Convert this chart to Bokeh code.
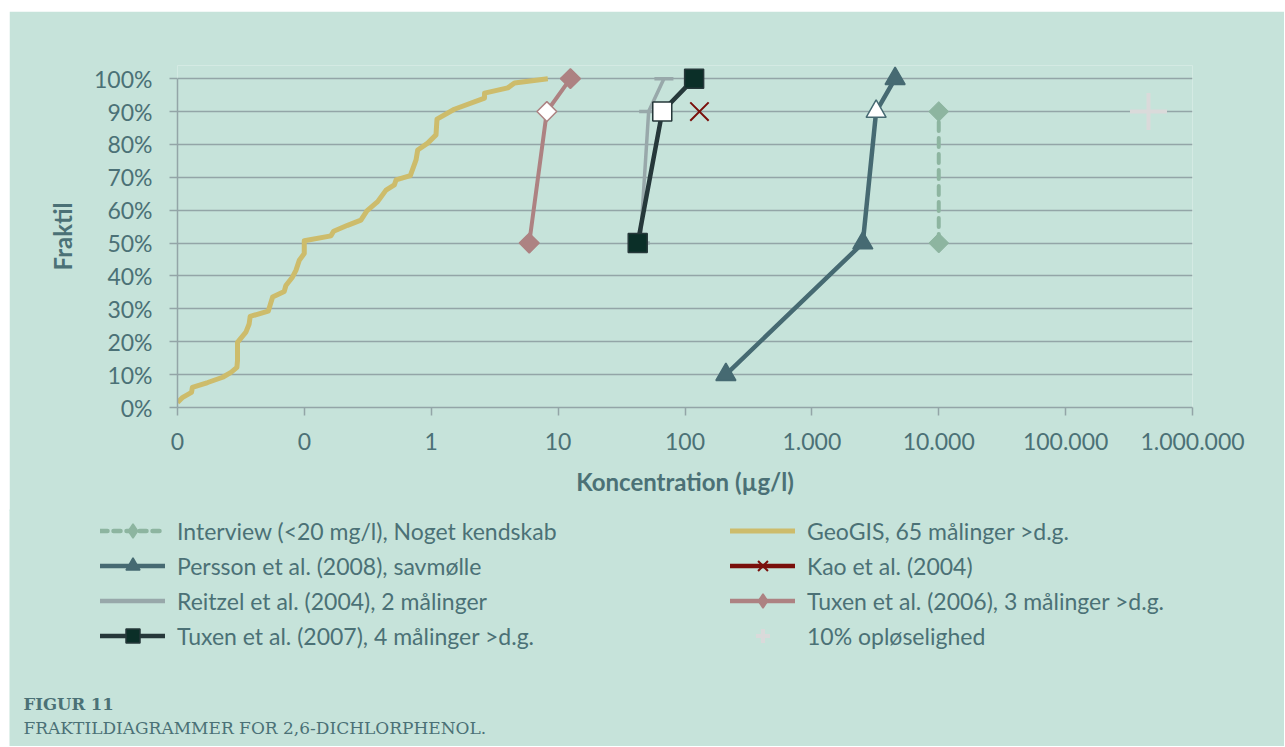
import math
from bokeh.plotting import figure
from bokeh.models import Range1d, FixedTicker, Legend, LegendItem, Label
from bokeh.embed import file_html
from bokeh.resources import INLINE

# ---------------- data ----------------
x_tick_values = [0.01, 0.1, 1, 10, 100, 1000, 10000, 100000, 1000000]
x_tick_labels = ["0", "0", "1", "10", "100", "1.000", "10.000", "100.000", "1.000.000"]
y_tick_values = [0, 10, 20, 30, 40, 50, 60, 70, 80, 90, 100]
y_tick_labels = ["0%", "10%", "20%", "30%", "40%", "50%", "60%", "70%", "80%", "90%", "100%"]

interview_conc = [10000, 10000]
interview_frac = [50, 90]

geogis_conc = [0.0100, 0.0110, 0.0129, 0.0131, 0.0173, 0.0227, 0.0264, 0.0294, 0.0297, 0.0297,
               0.0346, 0.0367, 0.0374, 0.0519, 0.0562, 0.0694, 0.0715, 0.0807, 0.0858, 0.0912,
               0.0998, 0.0998, 0.162, 0.170, 0.219, 0.279, 0.311, 0.378, 0.440, 0.512,
               0.528, 0.684, 0.759, 0.782, 0.938, 1.09, 1.11, 1.52, 2.63, 2.63,
               4.01, 4.53, 8.29]
geogis_frac = [1.5, 3.1, 4.6, 6.1, 7.6, 9.2, 10.7, 12.2, 14.2, 19.8,
               22.9, 25.4, 27.7, 29.3, 33.6, 35.3, 37.1, 39.7, 41.7, 44.8,
               46.8, 50.7, 52.2, 53.6, 55.4, 57.0, 59.8, 62.6, 66.1, 67.7,
               69.2, 70.5, 75.3, 78.3, 80.4, 82.9, 87.7, 90.7, 94.1, 95.6,
               97.2, 98.7, 100]

persson_conc = [210, 2520, 3210, 4530]
persson_frac = [10, 50, 90, 100]

kao_conc = [130]
kao_frac = [90]

reitzel_conc = [44.4, 51.7, 68.2]
reitzel_frac = [50, 90, 100]

tuxen06_conc = [5.92, 8.15, 12.5]
tuxen06_frac = [50, 90, 100]

tuxen07_conc = [42.4, 66.2, 118]
tuxen07_frac = [50, 90, 100]

solubility_conc = [450000]
solubility_frac = [90]

labels = {
    "interview": "Interview (<20 mg/l), Noget kendskab",
    "geogis": "GeoGIS, 65 målinger >d.g.",
    "persson": "Persson et al. (2008), savmølle",
    "kao": "Kao et al. (2004)",
    "reitzel": "Reitzel et al. (2004), 2 målinger",
    "tuxen06": "Tuxen et al. (2006), 3 målinger >d.g.",
    "tuxen07": "Tuxen et al. (2007), 4 målinger >d.g.",
    "sol": "10% opløselighed",
}
caption_title = "FIGUR 11"
caption_text = "FRAKTILDIAGRAMMER FOR 2,6-DICHLORPHENOL."

# ---------------- style ----------------
BG = "#c6e3da"
GRID = "#93a5a7"
TEXT = "#4b7176"
C_INT = "#8db5a0"
C_GEO = "#cdbc6b"
C_PER = "#466a72"
C_KAO = "#7a0f0b"
C_REI = "#98a8aa"
C_T06 = "#ad8282"
C_T07 = "#26383a"
C_T07F = "#0b2f28"
C_SOL = "#dadada"
FONT = "Lato"

W = 1275
H1 = 500
H2 = 237

p = figure(width=W, height=H1, x_axis_type="log",
           x_range=Range1d(0.01, 1000000), y_range=Range1d(0, 104),
           output_backend="svg", toolbar_location=None,
           min_border_left=168, min_border_right=92,
           min_border_top=54, min_border_bottom=104,
           margin=(11, 0, 0, 9))
p.background_fill_color = BG
p.border_fill_color = BG
p.outline_line_color = None

p.xaxis.ticker = FixedTicker(ticks=x_tick_values)
p.xaxis.major_label_overrides = dict(zip(x_tick_values, x_tick_labels))
p.yaxis.ticker = FixedTicker(ticks=y_tick_values)
p.yaxis.major_label_overrides = dict(zip(y_tick_values, y_tick_labels))
p.yaxis.bounds = (0, 100)
p.xaxis.axis_label = "Koncentration (µg/l)"
p.yaxis.axis_label = "Fraktil"

for ax in (p.xaxis[0], p.yaxis[0]):
    ax.axis_line_color = GRID
    ax.axis_line_width = 1.5
    ax.major_tick_line_color = GRID
    ax.major_tick_line_width = 1.5
    ax.major_tick_out = 8
    ax.major_tick_in = 0
    ax.minor_tick_line_color = None
    ax.major_label_text_font = FONT
    ax.major_label_text_font_size = "23px"
    ax.major_label_text_color = TEXT
    ax.axis_label_text_font = FONT
    ax.axis_label_text_font_style = "bold"
    ax.axis_label_text_font_size = "24px"
    ax.axis_label_text_color = TEXT
p.xaxis.major_label_standoff = 17
p.yaxis.major_label_standoff = 17
p.xaxis.axis_label_standoff = 14
p.yaxis.axis_label_standoff = 14

p.xgrid.grid_line_color = None
p.ygrid.grid_line_color = GRID
p.ygrid.grid_line_width = 1.5

def fills(fracs, color):
    return ["white" if f == 90 else color for f in fracs]

# Interview
p.line(interview_conc, interview_frac, line_color=C_INT, line_width=4,
       line_dash="9 7", line_cap="round")
p.scatter(interview_conc, interview_frac, marker="square", angle=math.pi / 4,
          size=14, fill_color=C_INT, line_color=C_INT)
# GeoGIS
p.line(geogis_conc, geogis_frac, line_color=C_GEO, line_width=5, line_join="round")
# Persson
p.line(persson_conc, persson_frac, line_color=C_PER, line_width=4.5)
p.scatter(persson_conc, persson_frac, marker="triangle", size=20,
          fill_color=fills(persson_frac, C_PER), line_color=C_PER, line_width=1.5)
# Kao
p.scatter(kao_conc, kao_frac, marker="x", size=26, line_color=C_KAO, line_width=2)
# Reitzel
p.line(reitzel_conc, reitzel_frac, line_color=C_REI, line_width=3.5)
p.scatter(reitzel_conc, reitzel_frac, marker="dash", size=19, line_color=C_REI, line_width=3.5)
# Tuxen 2006
p.line(tuxen06_conc, tuxen06_frac, line_color=C_T06, line_width=4)
p.scatter(tuxen06_conc, tuxen06_frac, marker="square", angle=math.pi / 4, size=14,
          fill_color=fills(tuxen06_frac, C_T06), line_color=C_T06, line_width=1.5)
# Tuxen 2007
p.line(tuxen07_conc, tuxen07_frac, line_color=C_T07, line_width=4.5)
p.scatter(tuxen07_conc, tuxen07_frac, marker="square", size=19,
          fill_color=fills(tuxen07_frac, C_T07F), line_color=C_T07, line_width=1.5)
# 10% solubility
p.scatter(solubility_conc, solubility_frac, marker="cross", size=37,
          line_color=C_SOL, line_width=4)

# ---------------- legend + caption panel (pixel coordinates) ----------------
q = figure(width=W, height=H2, x_range=Range1d(0, W), y_range=Range1d(0, H2),
           output_backend="svg", toolbar_location=None,
           x_axis_location=None, y_axis_location=None, min_border=0,
           margin=(-2, 0, 0, 9))
q.background_fill_color = BG
q.border_fill_color = BG
q.outline_line_color = None
q.grid.visible = False

NAN = [float("nan")]

def swatch(line_color=None, marker=None, fill=None, mline=None, mwidth=1.5, **kw):
    rs = []
    if line_color is not None:
        rs.append(q.line(NAN, NAN, line_color=line_color, **kw))
    if marker is not None:
        rs.append(q.scatter(NAN, NAN, marker=marker, fill_color=fill,
                            line_color=mline, line_width=mwidth))
    return rs

left_items = [
    LegendItem(label=labels["interview"],
               renderers=swatch(C_INT, "diamond", C_INT, C_INT, line_width=4.5,
                                line_dash="7 6", line_cap="round")),
    LegendItem(label=labels["persson"],
               renderers=swatch(C_PER, "triangle", C_PER, C_PER, line_width=4.5, line_cap="round")),
    LegendItem(label=labels["reitzel"],
               renderers=swatch(C_REI, line_width=4.5, line_cap="round")),
    LegendItem(label=labels["tuxen07"],
               renderers=swatch(C_T07, "square", C_T07F, C_T07, line_width=4.5, line_cap="round")),
]
right_items = [
    LegendItem(label=labels["geogis"],
               renderers=swatch(C_GEO, line_width=5, line_cap="round")),
    LegendItem(label=labels["kao"],
               renderers=swatch(C_KAO, "x", None, C_KAO, mwidth=2, line_width=4.5, line_cap="round")),
    LegendItem(label=labels["tuxen06"],
               renderers=swatch(C_T06, "diamond", C_T06, C_T06, line_width=4.5, line_cap="round")),
    LegendItem(label=labels["sol"],
               renderers=swatch(None, "cross", None, C_SOL, mwidth=4)),
]

def make_legend(items, loc):
    lg = Legend(items=items, location=loc)
    lg.background_fill_alpha = 0
    lg.border_line_color = None
    lg.padding = 0
    lg.margin = 0
    lg.spacing = 0
    lg.glyph_width = 65
    lg.glyph_height = 35
    lg.label_standoff = 12
    lg.label_text_font = FONT
    lg.label_text_font_size = "23px"
    lg.label_text_color = TEXT
    return lg

q.add_layout(make_legend(left_items, (91, 93)))
q.add_layout(make_legend(right_items, (721, 93)))

q.add_layout(Label(x=14, y=42, text=caption_title, text_font="DejaVu Serif",
                   text_font_style="bold", text_font_size="16.5px", text_color=TEXT,
                   text_baseline="alphabetic"))
q.add_layout(Label(x=14, y=19, text=caption_text, text_font="DejaVu Serif",
                   text_font_size="17px", text_color=TEXT, text_baseline="alphabetic"))

open("out.html", "w").write(file_html([p, q], INLINE))
